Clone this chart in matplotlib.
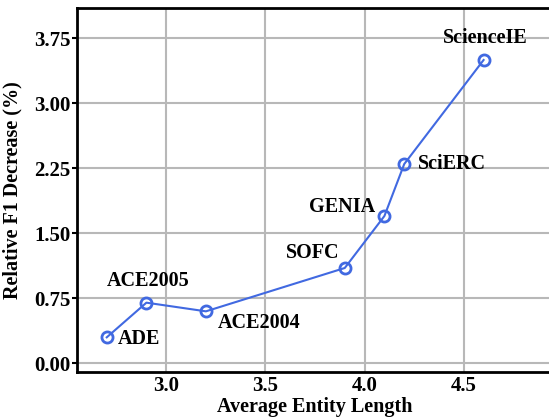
import matplotlib
matplotlib.use('Agg')
import matplotlib.pyplot as plt

# datos
names = ['ADE', 'ACE2005', 'ACE2004', 'SOFC', 'GENIA', 'SciERC', 'ScienceIE']
length = [2.7, 2.9, 3.2, 3.9, 4.1, 4.2, 4.6]
decrease = [0.3, 0.7, 0.6, 1.1, 1.7, 2.3, 3.5]
# desplazamiento de etiquetas (pixeles) y alineacion
offsets = [(11, -2, 'left', 'center'), (2, 22, 'center', 'center'),
           (12, -12, 'left', 'center'), (-32, 15, 'center', 'center'),
           (-9, 9, 'right', 'center'), (14, 0, 'left', 'center'),
           (2, 22, 'center', 'center')]

plt.rcParams['font.family'] = ['Liberation Serif', 'DejaVu Serif']
plt.rcParams['font.weight'] = 'bold'

fig = plt.figure(figsize=(5.49, 4.19), dpi=100)
ax = fig.add_axes([77 / 549, 47 / 419, 476 / 549, 364 / 419])
ax.plot(length, decrease, color='#4169E1', lw=1.5, marker='o', ms=8,
        mfc='none', mec='#4169E1', mew=2, zorder=3)
for n, x, y, (dx, dy, ha, va) in zip(names, length, decrease, offsets):
    ax.annotate(n, (x, y), xytext=(dx, dy), textcoords='offset pixels',
                ha=ha, va=va, fontsize=14.5, fontweight='bold')

ax.set_xlim(2.55, 4.95)
ax.set_ylim(-0.1, 4.1)
ax.set_xticks([3.0, 3.5, 4.0, 4.5])
ax.set_yticks([0.0, 0.75, 1.5, 2.25, 3.0, 3.75])
ax.set_yticklabels(['0.00', '0.75', '1.50', '2.25', '3.00', '3.75'])
ax.tick_params(labelsize=15, width=1.5, length=3.5, pad=1)
ax.tick_params(axis='x', length=0, pad=3)
ax.grid(True, color='#b8b8b8', lw=1.5)
ax.set_axisbelow(True)
for s in ax.spines.values():
    s.set_linewidth(2)
ax.set_xlabel('Average Entity Length', fontsize=14.5, fontweight='bold')
ax.set_ylabel('Relative F1 Decrease (%)', fontsize=14.5, fontweight='bold')
ax.xaxis.set_label_coords(0.5, -0.068)
ax.yaxis.set_label_coords(-0.1155, 0.5)

fig.savefig('out.png', dpi=100)
